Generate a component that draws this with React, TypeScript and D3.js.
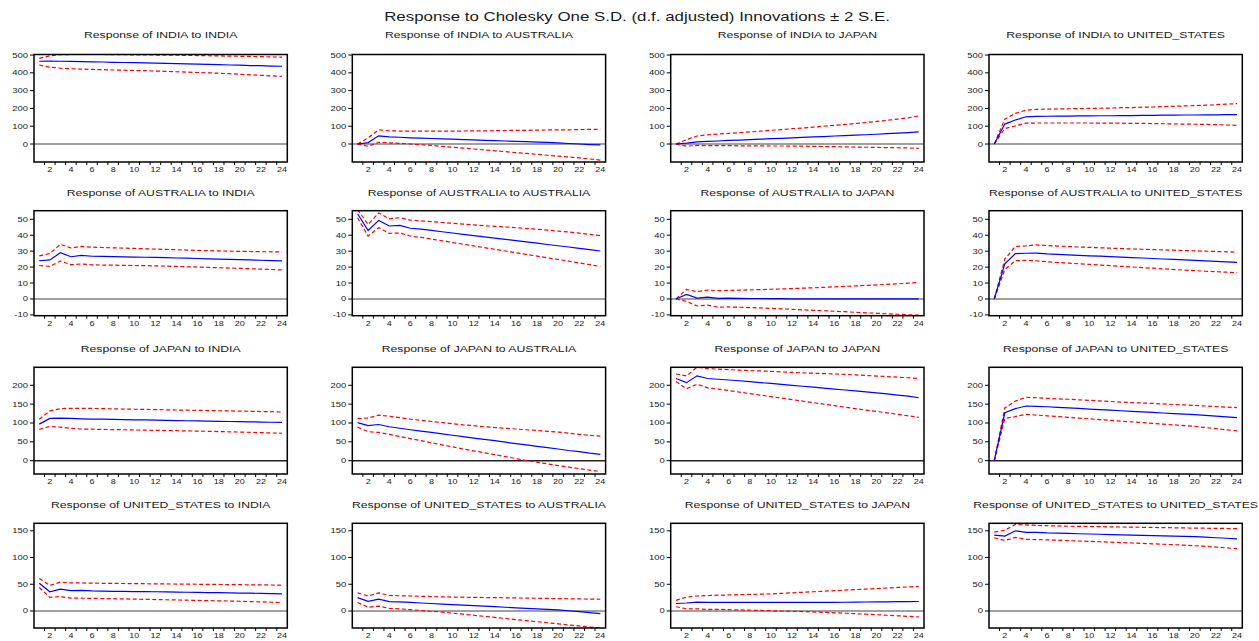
import React from 'react'
import * as d3 from 'd3'

// impulse responses, periods 1..24
const periods = d3.range(1, 25)

const rowNames = ['INDIA', 'AUSTRALIA', 'JAPAN', 'UNITED_STATES']

// row 1: response of INDIA
const IND_IND = [465, 466, 465, 464, 463, 462, 461, 459, 458, 457, 456, 454, 453, 452, 450, 449, 447, 446, 444, 443, 441, 440, 438, 437]
const IND_IND_HI = [481, 496, 502, 503, 503, 503, 503, 502, 502, 501, 501, 500, 499, 499, 498, 497, 496, 495, 494, 493, 492, 491, 490, 488]
const IND_IND_LO = [444, 432, 426, 423, 421, 419, 418, 416, 415, 413, 412, 410, 408, 406, 404, 402, 400, 398, 395, 392, 389, 386, 383, 380]

const IND_AUS = [0, 8, 46, 40, 38, 35, 33, 31, 29, 27, 25, 23, 21, 19, 17, 15, 13, 11, 9, 6, 3, 0, -3, -5]
const IND_AUS_HI = [0, 35, 80, 74, 73, 72, 72, 72, 72, 73, 73, 74, 74, 75, 76, 77, 77, 78, 79, 80, 80, 81, 82, 83]
const IND_AUS_LO = [0, -13, 10, 7, 4, 0, -4, -8, -13, -18, -23, -28, -33, -38, -43, -48, -53, -58, -63, -68, -73, -78, -84, -90]

const IND_JPN = [0, 5, 12, 15, 17, 20, 22, 25, 27, 30, 32, 35, 37, 40, 42, 45, 47, 50, 52, 55, 58, 61, 64, 68]
const IND_JPN_HI = [0, 25, 45, 52, 56, 60, 64, 68, 72, 77, 81, 86, 90, 95, 100, 105, 110, 115, 121, 127, 133, 140, 147, 158]
const IND_JPN_LO = [0, -12, -8, -9, -9, -9, -10, -10, -10, -11, -11, -12, -12, -13, -14, -15, -16, -17, -18, -19, -20, -21, -22, -24]

const IND_USA = [0, 112, 135, 153, 155, 156, 157, 157, 158, 158, 159, 159, 160, 160, 161, 161, 162, 162, 163, 163, 164, 164, 165, 165]
const IND_USA_HI = [0, 140, 172, 190, 195, 196, 197, 198, 199, 200, 201, 202, 204, 205, 207, 208, 210, 212, 214, 216, 218, 221, 224, 227]
const IND_USA_LO = [0, 87, 102, 117, 118, 118, 118, 118, 118, 118, 117, 117, 117, 116, 116, 115, 114, 113, 112, 111, 110, 109, 107, 105]

// row 2: response of AUSTRALIA
const AUS_IND = [24, 24.5, 29, 26.5, 27.3, 26.8, 26.7, 26.6, 26.4, 26.3, 26.2, 26.1, 25.9, 25.7, 25.6, 25.4, 25.2, 25.0, 24.9, 24.7, 24.5, 24.3, 24.1, 23.9]
const AUS_IND_HI = [27, 28.5, 34.3, 32, 33, 32.5, 32.3, 32.1, 31.9, 31.7, 31.5, 31.3, 31.1, 30.9, 30.7, 30.5, 30.3, 30.2, 30.0, 29.9, 29.8, 29.7, 29.6, 29.5]
const AUS_IND_LO = [21, 20.5, 23.8, 21.5, 22, 21.4, 21.3, 21.2, 21.1, 21.0, 20.9, 20.8, 20.6, 20.4, 20.2, 20.0, 19.8, 19.6, 19.4, 19.2, 19.0, 18.7, 18.5, 18.2]

const AUS_AUS = [53.5, 43, 49.3, 45.8, 46.2, 44.4, 43.8, 43.0, 42.2, 41.4, 40.6, 39.8, 39.0, 38.2, 37.4, 36.6, 35.8, 35.0, 34.2, 33.4, 32.6, 31.8, 31.0, 30.1]
const AUS_AUS_HI = [56, 46.8, 54, 50.3, 51, 49.5, 49.0, 48.5, 48.0, 47.5, 47.0, 46.5, 46.0, 45.6, 45.2, 44.7, 44.2, 43.7, 43.2, 42.6, 42.0, 41.3, 40.5, 39.7]
const AUS_AUS_LO = [51, 39.5, 44.7, 41.2, 41.4, 39.5, 38.6, 37.6, 36.5, 35.4, 34.4, 33.3, 32.2, 31.2, 30.1, 29.0, 28.0, 26.9, 25.8, 24.8, 23.7, 22.6, 21.5, 20.4]

const AUS_JPN = [0, 2.8, 0.5, 1.1, 0.4, 0.5, 0.4, 0.3, 0.3, 0.2, 0.2, 0.1, 0.1, 0.1, 0.1, 0, 0, 0, 0, 0, 0, 0, 0, 0]
const AUS_JPN_HI = [0, 6, 4.6, 5.6, 5.2, 5.4, 5.5, 5.7, 5.9, 6.1, 6.3, 6.5, 6.8, 7.0, 7.3, 7.6, 7.9, 8.2, 8.5, 8.8, 9.2, 9.5, 9.9, 10.3]
const AUS_JPN_LO = [0, -1.5, -4.4, -3.9, -5.1, -5.0, -5.2, -5.4, -5.6, -5.9, -6.2, -6.5, -6.8, -7.1, -7.4, -7.7, -8.0, -8.4, -8.7, -9.0, -9.3, -9.6, -9.9, -10.2]

const AUS_USA = [0, 22, 28.5, 28.7, 28.8, 28.3, 28.0, 27.7, 27.4, 27.1, 26.9, 26.6, 26.3, 26.0, 25.7, 25.4, 25.1, 24.8, 24.5, 24.2, 23.9, 23.6, 23.3, 23.0]
const AUS_USA_HI = [0, 25, 33, 33.3, 34, 33.5, 33.2, 32.9, 32.6, 32.4, 32.1, 31.9, 31.6, 31.4, 31.2, 31.0, 30.8, 30.6, 30.4, 30.2, 30.0, 29.8, 29.6, 29.4]
const AUS_USA_LO = [0, 18.5, 24, 24.2, 24, 23.3, 22.9, 22.5, 22.1, 21.7, 21.3, 20.9, 20.5, 20.1, 19.7, 19.3, 18.9, 18.5, 18.1, 17.8, 17.4, 17.1, 16.8, 16.5]

// row 3: response of JAPAN
const JPN_IND = [97, 112, 113, 112, 111, 110.5, 110, 109.5, 109, 108.5, 108, 107.5, 107, 106.5, 106, 105.5, 105, 104.5, 104, 103.5, 103, 102.5, 102, 101.5]
const JPN_IND_HI = [110, 132, 138, 139, 139, 138.5, 138, 137.5, 137, 136.5, 136, 135.5, 135, 134.5, 134, 133.5, 133, 132.5, 132, 131.5, 131, 130.5, 130, 129]
const JPN_IND_LO = [83, 91, 89, 86, 84, 83.5, 83, 82.5, 82, 81.5, 81, 80.5, 80, 79.5, 79, 78.5, 78, 77.3, 76.6, 75.9, 75.2, 74.4, 73.6, 72.8]

const JPN_AUS = [101, 93, 96, 90, 86, 82, 78.5, 75, 71, 67.5, 64, 60, 56.5, 53, 49, 45.5, 42, 38, 34.5, 31, 27, 24, 20, 17]
const JPN_AUS_HI = [112, 113, 121, 118, 114, 110, 107, 104, 101, 98, 95, 93, 90, 88, 86, 84, 82, 80, 78, 76, 73, 70, 67, 65]
const JPN_AUS_LO = [89, 77, 75, 70, 64, 58.5, 53, 47.5, 42, 36.5, 31, 26, 21, 16, 11, 5.5, 0.5, -4, -8.5, -13, -17, -21, -25, -29]

const JPN_JPN = [218, 207, 225, 218, 216, 214, 212, 209.5, 207, 205, 202.5, 200, 197.5, 195, 192.5, 190, 187.5, 185, 182.5, 180, 177, 174, 171, 167]
const JPN_JPN_HI = [230, 225, 248, 244, 243, 241.5, 240, 239, 238, 237, 235.5, 234, 233, 232, 231, 230, 229, 227.5, 226, 224.5, 223, 221.5, 220, 218]
const JPN_JPN_LO = [210, 191, 203, 193, 190, 186, 182, 178, 174, 170, 166, 162, 158, 154, 150, 146, 142, 138, 134, 130.5, 127, 123, 119, 115]

const JPN_USA = [0, 127, 138, 145, 144, 143, 141.5, 140, 138.5, 137, 135.5, 134, 132.5, 131, 129.5, 128, 126.5, 125, 123.5, 122, 120, 118, 116, 114]
const JPN_USA_HI = [0, 140, 158, 168, 167, 165.5, 164, 163, 161.5, 160, 158.5, 157, 155.5, 154, 153, 152, 150.5, 149, 148, 146.5, 145, 143.5, 142, 141]
const JPN_USA_LO = [0, 112, 117, 123, 121, 119, 117, 115, 113, 111, 109, 107, 105, 103, 101, 99, 97, 95, 93, 91, 88, 85, 82, 79]

// row 4: response of UNITED_STATES
const USA_IND = [52, 36, 41, 38, 38.5, 37.5, 37, 36.8, 36.6, 36.4, 36.2, 36, 35.7, 35.4, 35.1, 34.8, 34.5, 34.2, 33.9, 33.6, 33.3, 33, 32.6, 32.2]
const USA_IND_HI = [61, 48, 54, 52.5, 52.5, 52, 51.8, 51.6, 51.4, 51.2, 51, 50.8, 50.6, 50.4, 50.2, 50, 49.8, 49.6, 49.4, 49.2, 49, 48.8, 48.6, 48.4]
const USA_IND_LO = [44, 25.5, 27, 24, 24, 23.6, 23.3, 23, 22.6, 22.2, 21.8, 21.4, 21, 20.6, 20.2, 19.8, 19.4, 19, 18.6, 18.2, 17.6, 17, 16.4, 15.8]

const USA_AUS = [25, 18, 22, 17.5, 17, 16, 15, 14, 13, 12, 11, 10, 9, 8, 7, 6, 5, 4, 3, 2, 0.5, -1, -3, -5]
const USA_AUS_HI = [34, 28, 34, 29, 28.5, 28, 27.5, 27, 26.5, 26, 25.8, 25.5, 25.2, 25, 24.7, 24.4, 24.1, 23.8, 23.5, 23.2, 22.9, 22.6, 22.3, 22]
const USA_AUS_LO = [16, 7, 9, 5, 4, 2.5, 1, -0.5, -2, -4, -6, -8, -10, -12, -14, -16, -18, -20, -22, -24, -26, -28, -30, -32]

const USA_JPN = [14, 15, 16.5, 16, 16, 16, 16, 16, 16, 16, 16, 16, 16, 16, 16, 16.2, 16.4, 16.6, 16.8, 17, 17.2, 17.4, 17.6, 17.8]
const USA_JPN_HI = [20, 26, 28, 29, 29.5, 30, 30.5, 31, 31.5, 32, 33, 34, 35, 36, 37, 38, 39, 40, 41, 42, 43, 44, 45, 46]
const USA_JPN_LO = [8, 4, 4, 3, 3, 2.5, 2, 1.5, 1, 0.5, 0, -0.5, -1, -1.8, -2.6, -3.4, -4.2, -5, -6, -7, -8, -9, -10, -11]

const USA_USA = [142, 140, 150, 147, 147, 146, 145.5, 145, 144.5, 144, 143.5, 143, 142.5, 142, 141.5, 141, 140.5, 140, 139.5, 139, 138, 137, 136, 135]
const USA_USA_HI = [147.5, 151, 162, 161, 160, 159.5, 159, 158.5, 158.3, 158, 157.7, 157.4, 157.1, 156.8, 156.5, 156.2, 155.9, 155.6, 155.3, 155, 154.8, 154.6, 154.3, 154]
const USA_USA_LO = [137, 132, 137.5, 134, 133.5, 133, 132.3, 131.6, 130.9, 130.2, 129.5, 128.8, 128, 127.2, 126.4, 125.6, 124.8, 124, 123, 122, 121, 119.5, 118, 116.5]

// y tick labels per row
const ticksRow1 = [0, 100, 200, 300, 400, 500]
const ticksRow2 = [-10, 0, 10, 20, 30, 40, 50]
const ticksRow3 = [0, 50, 100, 150, 200]
const ticksRow4 = [0, 50, 100, 150]

const series = [
  [[IND_IND, IND_IND_LO, IND_IND_HI], [IND_AUS, IND_AUS_LO, IND_AUS_HI], [IND_JPN, IND_JPN_LO, IND_JPN_HI], [IND_USA, IND_USA_LO, IND_USA_HI]],
  [[AUS_IND, AUS_IND_LO, AUS_IND_HI], [AUS_AUS, AUS_AUS_LO, AUS_AUS_HI], [AUS_JPN, AUS_JPN_LO, AUS_JPN_HI], [AUS_USA, AUS_USA_LO, AUS_USA_HI]],
  [[JPN_IND, JPN_IND_LO, JPN_IND_HI], [JPN_AUS, JPN_AUS_LO, JPN_AUS_HI], [JPN_JPN, JPN_JPN_LO, JPN_JPN_HI], [JPN_USA, JPN_USA_LO, JPN_USA_HI]],
  [[USA_IND, USA_IND_LO, USA_IND_HI], [USA_AUS, USA_AUS_LO, USA_AUS_HI], [USA_JPN, USA_JPN_LO, USA_JPN_HI], [USA_USA, USA_USA_LO, USA_USA_HI]],
]

/* layout */
const W = 1259
const H = 641
const colLeft = [34, 352.3, 670.7, 989]
const plotW = 253.3
const rowTop = [54.5, 210.7, 367.3, 523.3]
const rowBottom = [162, 315.7, 474, 628]
const titleY = [38, 196, 352, 508]
const rowDomain = [[-101, 503], [-10.5, 55.4], [-35.3, 247.7], [-31.8, 164]]
const rowTicks = [ticksRow1, ticksRow2, ticksRow3, ticksRow4]
const zeroColor = ['#808080', '#808080', '#222', '#808080']
const font = "'Liberation Sans', Arial, sans-serif"

// EViews text looks stretched sideways, so scale x
function SText({ x, y, size, sx, anchor = 'start', children }) {
  return (
    <text transform={`translate(${x},${y}) scale(${sx},1)`} fontSize={size}
      textAnchor={anchor} fill="#1a1a1a" fontFamily={font}>{children}</text>
  )
}

function Panel({ r, c }) {
  const left = colLeft[c]
  const top = rowTop[r]
  const bottom = rowBottom[r]
  const x = d3.scaleLinear().domain([0.5, 24.5]).range([left, left + plotW])
  const y = d3.scaleLinear().domain(rowDomain[r]).range([bottom, top])
  const [irf, lo, hi] = series[r][c]
  const line = d3.line<number>().x((_, i) => x(periods[i])).y(d => y(d))
  const clipId = `clip-${r}-${c}`
  const title = `Response of ${rowNames[r]} to ${rowNames[c]}`
  const boundaries = d3.range(1.5, 24.5, 1)
  return (
    <g>
      <clipPath id={clipId}>
        <rect x={left} y={top} width={plotW} height={bottom - top} />
      </clipPath>
      <SText x={left + plotW / 2} y={titleY[r]} size={9.4} sx={1.3} anchor="middle">{title}</SText>
      {/* zero line */}
      <line x1={left} x2={left + plotW} y1={y(0)} y2={y(0)} stroke={zeroColor[r]} strokeWidth={1.4} />
      <g clipPath={`url(#${clipId})`} fill="none">
        <path d={line(hi)} stroke="#ff0000" strokeWidth={1.2} strokeDasharray="4,2.5" />
        <path d={line(lo)} stroke="#ff0000" strokeWidth={1.2} strokeDasharray="4,2.5" />
        <path d={line(irf)} stroke="#0000ff" strokeWidth={1.2} />
      </g>
      <rect x={left} y={top} width={plotW} height={bottom - top} fill="none" stroke="#000" strokeWidth={1.5} />
      {/* y axis */}
      {rowTicks[r].map(t => (
        <g key={t}>
          <line x1={left - 4} x2={left} y1={y(t)} y2={y(t)} stroke="#000" strokeWidth={1} />
          <SText x={left - 6} y={y(t) + 2.5} size={7} sx={1.35} anchor="end">{t}</SText>
        </g>
      ))}
      {/* x axis */}
      {boundaries.map(b => (
        <line key={b} x1={x(b)} x2={x(b)} y1={bottom} y2={bottom + 3} stroke="#000" strokeWidth={1} />
      ))}
      {periods.filter(p => p % 2 === 0).map(p => (
        <SText key={p} x={x(p)} y={bottom + 10} size={7.5} sx={1.2} anchor="middle">{p}</SText>
      ))}
    </g>
  )
}

export default function App() {
  return (
    <svg width={W} height={H} style={{ position: 'absolute', left: 0, top: 0, background: '#fff' }}>
      <rect width={W} height={H} fill="#fff" />
      <SText x={637} y={20.7} size={12.5} sx={1.35} anchor="middle">
        Response to Cholesky One S.D. (d.f. adjusted) Innovations ± 2 S.E.
      </SText>
      {d3.range(4).map(r => d3.range(4).map(c => <Panel key={`${r}-${c}`} r={r} c={c} />))}
    </svg>
  )
}
